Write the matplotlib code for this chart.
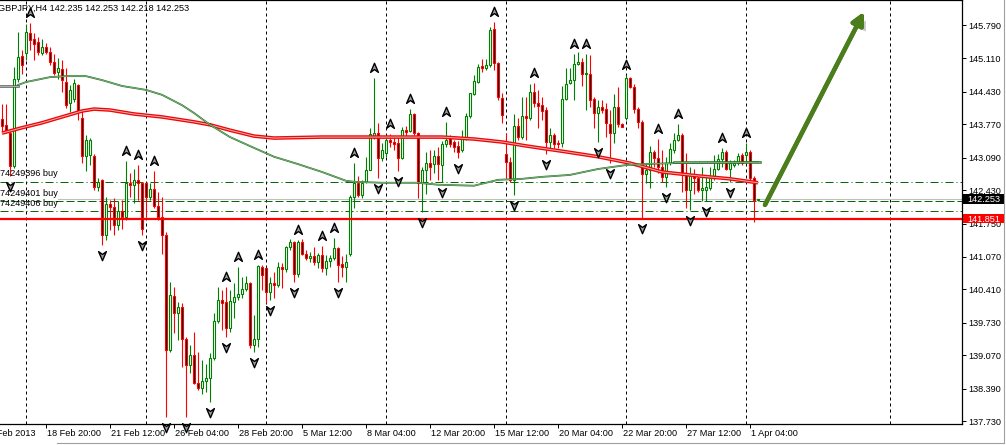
import matplotlib
matplotlib.use("Agg")
import matplotlib.pyplot as plt
import matplotlib.transforms as mtransforms
import matplotlib.patheffects as pe
from matplotlib.path import Path
from matplotlib.patches import Rectangle
from matplotlib.lines import Line2D

plt.rcParams['font.family'] = ['Liberation Sans', 'DejaVu Sans']
FS = 6.6

# GBPJPY H4 candles (index 0 = leftmost bar)
opens = [143.87, 143.75, 143.60, 142.93, 144.70, 145.16, 145.23, 145.62, 145.50, 145.44,
         145.23, 145.35, 145.25, 145.03, 144.84, 144.89, 144.64, 144.20, 144.28, 144.56,
         143.89, 143.12, 143.14, 143.12, 142.49, 142.64, 141.52, 142.15, 142.08, 141.72,
         142.01, 141.89, 142.58, 142.53, 142.64, 142.57, 142.57, 142.30, 142.45, 142.11,
         141.89, 141.52, 139.18, 140.27, 139.92, 140.06, 139.41, 138.87, 139.07, 138.50,
         138.41, 138.54, 138.60, 139.02, 139.77, 140.19, 140.16, 139.63, 140.16, 140.25,
         140.32, 140.41, 140.53, 139.28, 139.41, 140.87, 140.84, 140.36, 140.53, 140.50,
         140.87, 140.82, 141.27, 141.37, 140.72, 141.37, 141.14, 141.04, 141.09, 140.96,
         141.11, 140.84, 140.99, 141.04, 141.25, 140.92, 140.87, 141.14, 142.30, 142.58,
         142.33, 142.60, 142.85, 143.52, 143.59, 143.08, 143.18, 143.45, 143.40, 143.38,
         143.09, 143.65, 143.64, 143.97, 143.60, 142.58, 142.83, 142.99, 142.96, 143.12,
         142.95, 143.37, 143.50, 143.41, 143.33, 143.25, 143.50, 143.93, 144.39, 144.64,
         144.96, 144.92, 144.98, 145.70, 145.01, 144.30, 143.17, 143.01, 142.64, 143.74,
         143.52, 143.94, 143.89, 144.43, 144.20, 144.16, 144.06, 143.40, 143.55, 143.38,
         143.38, 144.28, 144.62, 144.67, 145.00, 145.03, 144.79, 144.79, 144.28, 144.01,
         144.13, 144.09, 143.78, 143.59, 144.13, 143.78, 143.89, 144.71, 144.52, 144.09,
         143.82, 142.75, 142.85, 143.21, 143.08, 142.91, 142.69, 142.98, 143.25, 143.46,
         143.55, 142.77, 142.43, 142.74, 142.67, 142.43, 142.43, 142.47, 142.70, 142.87,
         143.06, 143.21, 142.87, 142.94, 142.98, 143.14, 143.14, 143.21, 142.67, 142.235]
highs = [144.19, 144.18, 143.68, 144.94, 145.64, 145.28, 145.81, 145.83, 145.62, 145.55,
         145.50, 145.42, 145.35, 145.21, 145.11, 145.08, 144.91, 144.57, 144.70, 144.60,
         144.06, 143.55, 143.50, 143.17, 142.67, 142.65, 142.30, 142.23, 142.26, 142.20,
         142.23, 143.02, 142.77, 142.87, 142.94, 142.60, 142.58, 142.57, 142.81, 142.40,
         142.30, 141.58, 140.57, 140.46, 140.16, 140.13, 139.45, 139.28, 139.55, 139.14,
         138.97, 138.90, 139.11, 139.92, 140.46, 140.40, 140.46, 140.40, 140.53, 140.87,
         140.67, 140.68, 140.57, 139.89, 140.91, 140.91, 140.87, 140.67, 140.77, 140.97,
         140.94, 141.29, 141.43, 141.40, 141.41, 141.43, 141.21, 141.18, 141.28, 141.16,
         141.29, 141.11, 141.11, 141.45, 141.28, 141.08, 141.14, 142.33, 142.99, 142.72,
         142.64, 143.11, 143.70, 144.71, 143.80, 143.38, 143.50, 143.57, 143.52, 143.53,
         143.72, 143.74, 144.09, 143.99, 143.62, 142.91, 143.21, 143.25, 143.25, 143.31,
         143.44, 143.82, 143.55, 143.46, 143.42, 143.65, 143.99, 144.41, 144.77, 145.00,
         145.09, 145.09, 145.76, 145.86, 145.04, 144.40, 143.59, 143.11, 143.98, 143.89,
         144.33, 144.33, 144.60, 144.62, 144.47, 144.33, 144.13, 143.69, 143.59, 143.45,
         144.54, 144.91, 144.91, 145.21, 145.25, 145.11, 145.21, 145.18, 144.33, 144.26,
         144.26, 144.20, 144.06, 144.38, 144.52, 143.80, 144.77, 144.74, 144.60, 144.13,
         143.86, 142.98, 143.33, 143.25, 143.48, 143.25, 143.11, 143.38, 143.59, 143.78,
         143.59, 143.19, 142.91, 142.87, 142.74, 142.91, 142.70, 142.91, 143.14, 143.17,
         143.28, 143.25, 143.04, 143.04, 143.18, 143.19, 143.38, 143.25, 142.72, 142.253]
lows = [143.60, 143.59, 142.71, 142.88, 144.63, 144.80, 145.08, 145.28, 145.08, 145.18,
        145.18, 145.21, 144.98, 144.77, 144.70, 144.43, 144.11, 144.03, 144.23, 143.86,
        142.98, 142.81, 142.94, 142.43, 142.42, 141.31, 141.41, 141.62, 141.52, 141.62,
        141.63, 141.82, 142.30, 142.16, 142.23, 141.52, 141.89, 142.23, 142.06, 141.82,
        141.14, 137.82, 139.14, 139.52, 139.38, 138.84, 137.82, 138.70, 138.48, 138.36,
        138.29, 138.33, 138.12, 138.97, 139.72, 139.58, 139.45, 139.55, 139.82, 140.19,
        140.23, 140.38, 139.21, 139.14, 139.24, 140.40, 140.13, 140.19, 140.23, 140.46,
        140.43, 140.77, 141.21, 140.57, 140.67, 141.11, 141.01, 140.97, 140.91, 140.84,
        140.77, 140.70, 140.87, 141.01, 140.57, 140.67, 140.57, 141.08, 142.06, 142.30,
        142.26, 142.57, 142.83, 143.48, 142.67, 143.03, 143.11, 143.31, 143.25, 142.81,
        143.06, 143.52, 143.62, 143.55, 142.28, 141.99, 142.36, 142.64, 142.77, 142.64,
        142.60, 143.31, 143.31, 143.21, 143.08, 143.21, 143.45, 143.89, 144.37, 144.62,
        144.84, 144.88, 144.94, 144.88, 144.26, 143.79, 142.67, 142.60, 142.33, 143.45,
        143.48, 143.46, 143.86, 144.13, 143.69, 143.86, 143.17, 143.25, 143.28, 143.28,
        143.31, 144.26, 144.60, 144.26, 144.98, 144.54, 144.06, 144.13, 143.69, 143.40,
        143.99, 143.52, 142.98, 143.38, 143.72, 143.71, 143.86, 144.50, 143.99, 143.69,
        141.86, 142.57, 142.47, 142.91, 142.77, 142.60, 142.50, 142.94, 143.18, 143.42,
        142.40, 142.06, 142.03, 142.36, 142.40, 142.20, 142.20, 142.43, 142.64, 142.84,
        142.91, 142.84, 142.60, 142.91, 142.94, 142.94, 142.98, 142.64, 141.79, 142.218]
closes = [143.73, 143.64, 142.93, 144.70, 145.15, 144.98, 145.64, 145.49, 145.40, 145.25,
          145.35, 145.25, 145.03, 144.82, 144.91, 144.67, 144.16, 144.47, 144.62, 144.05,
          143.13, 143.46, 143.45, 142.49, 142.60, 141.52, 142.15, 142.08, 141.72, 142.01,
          141.89, 142.58, 142.53, 142.64, 142.57, 141.63, 142.30, 142.45, 142.11, 141.88,
          141.52, 139.18, 140.30, 139.92, 140.06, 139.41, 138.87, 139.07, 138.50, 138.41,
          138.54, 138.60, 139.02, 139.77, 140.19, 140.14, 139.63, 140.17, 140.26, 140.32,
          140.42, 140.55, 139.28, 139.41, 140.89, 140.70, 140.36, 140.53, 140.50, 140.87,
          140.82, 141.27, 141.37, 140.72, 141.37, 141.14, 141.04, 141.09, 140.96, 141.11,
          140.84, 140.99, 141.04, 141.25, 140.91, 140.87, 140.97, 142.30, 142.58, 142.33,
          142.57, 142.85, 143.57, 143.59, 143.08, 143.25, 143.45, 143.40, 143.37, 143.09,
          143.65, 143.62, 143.97, 143.60, 142.58, 142.83, 142.98, 142.91, 143.12, 142.96,
          143.37, 143.46, 143.37, 143.31, 143.21, 143.52, 143.93, 144.40, 144.65, 144.94,
          144.92, 144.98, 145.69, 145.01, 144.32, 143.96, 143.01, 142.64, 143.74, 143.52,
          143.94, 143.89, 144.43, 144.20, 144.14, 144.05, 143.40, 143.55, 143.37, 143.37,
          144.28, 144.60, 144.67, 144.99, 145.04, 144.79, 144.81, 144.26, 144.01, 144.13,
          144.07, 143.79, 143.59, 144.13, 143.78, 143.72, 144.71, 144.52, 144.09, 143.82,
          142.75, 142.85, 143.21, 143.08, 142.91, 142.69, 142.98, 143.26, 143.46, 143.55,
          142.77, 142.43, 142.74, 142.67, 142.43, 142.47, 142.50, 142.70, 142.87, 143.06,
          143.21, 142.87, 142.98, 142.99, 143.13, 142.98, 143.21, 142.67, 142.23, 142.253]

# moving averages (sampled along the drawn lines)
ma_red_bar = [0, 5, 10, 15, 20, 23, 27, 33, 40, 48, 52, 57, 63, 68, 80, 95, 110, 118,
              125, 131, 141, 149, 157, 165, 174, 182, 189]
ma_red_val = [143.59, 143.70, 143.80, 143.92, 144.04, 144.08, 144.06, 143.98, 143.92,
              143.82, 143.76, 143.65, 143.53, 143.49, 143.51, 143.51, 143.51, 143.47,
              143.41, 143.33, 143.21, 143.11, 142.98, 142.80, 142.72, 142.66, 142.58]
ma_green_bar = [4, 6, 12, 16, 21, 25, 30, 36, 40, 45, 48, 52, 57, 63, 68, 74, 80, 86, 88,
                95, 104, 109, 118, 124, 130, 135, 142, 149, 156, 160, 168, 189]
ma_green_val = [144.57, 144.63, 144.73, 144.75, 144.75, 144.67, 144.55, 144.47, 144.37,
                144.16, 144.00, 143.76, 143.51, 143.29, 143.11, 142.96, 142.80, 142.62,
                142.60, 142.58, 142.58, 142.54, 142.52, 142.64, 142.66, 142.70, 142.74,
                142.86, 142.94, 142.96, 142.98, 143.00]

# fractal arrows
up_fractals = [7, 31, 34, 38, 56, 59, 64, 74, 80, 83, 88, 93, 97, 102, 111, 123, 133,
               143, 146, 156, 164, 169, 180, 186]
down_fractals = [2, 25, 35, 41, 46, 52, 56, 63, 67, 73, 84, 94, 99, 105, 110, 114, 128,
                 136, 149, 152, 160, 166, 172, 176, 182]

# open orders and levels
order_ids = ["74249396 buy", "74249401 buy", "74249406 buy"]
order_prices = [142.60, 142.20, 142.00]
stop_level = 141.851

date_ticks = [11, 27, 43, 59, 75, 91, 107, 123, 139, 155, 171, 187]
date_labels = ["18 Feb 20:00", "21 Feb 12:00", "26 Feb 04:00", "28 Feb 20:00",
               "5 Mar 12:00", "8 Mar 04:00", "12 Mar 20:00", "15 Mar 12:00",
               "20 Mar 04:00", "22 Mar 20:00", "27 Mar 12:00", "1 Apr 04:00"]
week_lines = [6, 36, 66, 96, 126, 156, 186, 222]
price_ticks = [145.790, 145.110, 144.430, 143.770, 143.090, 142.430, 141.750,
               141.070, 140.410, 139.730, 139.070, 138.390, 137.730]

arrow_tail = (190.75, 142.13)
arrow_tip = (215.5, 146.06)

GREEN = '#008000'
RED = '#ff0000'

fig = plt.figure(figsize=(10.06, 4.45), dpi=100)
ax = fig.add_axes([0, 21 / 445, 962 / 1006, 424 / 445])
ax.set_xlim(-0.5, 240)
ax.set_ylim(137.67, 146.30)

# weekly separators
for w in week_lines:
    ax.axvline(w, color='black', lw=0.72, ls=(0, (3, 3)), zorder=1)

# candles
xs = list(range(len(opens)))
up = [c >= o for o, c in zip(opens, closes)]
cols = [GREEN if u else RED for u in up]
ax.vlines(xs, lows, highs, colors=cols, lw=0.8, zorder=3)
heights = [max(abs(c - o), 0.01) for o, c in zip(opens, closes)]
bottoms = [min(o, c) for o, c in zip(opens, closes)]
ax.bar(xs, heights, bottom=bottoms, width=0.5,
       color=['white' if u else 'black' for u in up], edgecolor=cols, lw=0.8, zorder=4)

# moving averages
ax.plot(ma_red_bar, ma_red_val, color=RED, lw=2.6, zorder=5, solid_capstyle='butt')
ax.plot(ma_red_bar, ma_red_val, color='#c4c4c4', lw=0.7, zorder=5)
ax.plot(ma_green_bar, ma_green_val, color='#207a20', lw=1.3, zorder=5)
ax.plot(ma_green_bar, ma_green_val, color='#c8c8c8', lw=0.35, zorder=5)
ax.plot([-0.5, 4], [144.55, 144.55], color='#555555', lw=1.8, zorder=5)
ax.plot([-0.5, 4], [144.55, 144.55], color='#b0b0b0', lw=0.7, zorder=5)
ax.plot([168, 189.5], [143.01, 143.01], color='#207a20', lw=1.8, zorder=5)
ax.plot([168, 189.5], [143.01, 143.01], color='#b0b0b0', lw=0.5, zorder=5)

# order lines
order_styles = [(0, (8, 3, 1, 3)), (0, (8, 3)), (0, (8, 3, 1, 3))]
for name, p, st in zip(order_ids, order_prices, order_styles):
    ax.axhline(p, color='#0a640a', lw=0.72, ls=st, zorder=2)
    ax.annotate(name, (-0.5, p), xytext=(0, 2.5), textcoords='offset points',
                fontsize=FS, va='bottom', ha='left', zorder=6)
ax.plot([14, 240], [closes[-1], closes[-1]], color='#c0c0c0', lw=0.8, zorder=2)
ax.axhline(stop_level, color=RED, lw=1.6, zorder=6)

# fractals
up_arrow = Path([(0, 1), (0.75, -0.75), (0, -0.2), (-0.75, -0.75), (0, 1)],
                [Path.MOVETO, Path.LINETO, Path.LINETO, Path.LINETO, Path.CLOSEPOLY])
down_arrow = Path([(0, -1), (0.75, 0.75), (0, 0.2), (-0.75, 0.75), (0, -1)],
                  [Path.MOVETO, Path.LINETO, Path.LINETO, Path.LINETO, Path.CLOSEPOLY])
tr_up = mtransforms.offset_copy(ax.transData, fig=fig, y=10, units='dots')
tr_dn = mtransforms.offset_copy(ax.transData, fig=fig, y=-10, units='dots')
ax.plot(up_fractals, [highs[i] for i in up_fractals], ls='none', marker=up_arrow, ms=7.5,
        mfc='#a0a0a0', mec='black', mew=1.0, transform=tr_up, zorder=7, clip_on=False)
ax.plot(down_fractals, [lows[i] for i in down_fractals], ls='none', marker=down_arrow, ms=7.5,
        mfc='#a0a0a0', mec='black', mew=1.0, transform=tr_dn, zorder=7, clip_on=False)

# hand-drawn arrow
ann = ax.annotate('', xy=arrow_tip, xytext=arrow_tail,
                  arrowprops=dict(arrowstyle='-|>', lw=3.2, color='#4b7d1c',
                                  mutation_scale=18, shrinkA=0, shrinkB=0), zorder=8)
ann.arrow_patch.set_path_effects([pe.withSimplePatchShadow(offset=(3, -3),
                                  shadow_rgbFace='#909090', alpha=0.5), pe.Normal()])

# axes look
ax.spines['left'].set_visible(False)
for s in ['right', 'bottom', 'top']:
    ax.spines[s].set_linewidth(0.9)
ax.yaxis.tick_right()
ax.set_yticks(price_ticks)
ax.set_yticklabels([f"{p:.3f}" for p in price_ticks])
ax.tick_params(axis='y', direction='out', length=3, width=0.72, pad=1.5, labelsize=FS)
ax.set_xticks(date_ticks)
ax.set_xticklabels([])
ax.tick_params(axis='x', direction='out', length=3, width=0.72)
xtr = ax.get_xaxis_transform()
for t, lab in zip(date_ticks, date_labels):
    ax.text(t + 0.3, -12.3 / 424, lab, transform=xtr, fontsize=FS, ha='left',
            va='baseline', clip_on=False)
ax.text(-4.6, -12.3 / 424, "15 Feb 2013", transform=xtr, fontsize=FS, ha='left',
        va='baseline', clip_on=False)

# price boxes on the scale
ytr = ax.get_yaxis_transform()
for p, bg in [(closes[-1], 'black'), (stop_level, RED)]:
    ax.add_patch(Rectangle((1.001, p - 0.097), 41 / 962, 0.194, transform=ytr,
                           facecolor=bg, edgecolor='none', clip_on=False, zorder=9))
    ax.text(1 + 5 / 962, p, f"{p:.3f}", transform=ytr, color='white', fontsize=FS,
            va='center_baseline', ha='left', clip_on=False, zorder=10)

fig.text(-2 / 1006, 1 - 11.3 / 445,
         f"GBPJPY,H4 {opens[-1]:.3f} {highs[-1]:.3f} {lows[-1]:.3f} {closes[-1]:.3f}",
         fontsize=FS, va='baseline', ha='left')

fig.add_artist(Line2D([57 / 1006, 1004 / 1006], [1 - 443 / 445] * 2, color='#a0a0a0', lw=0.8))
fig.add_artist(Line2D([1004 / 1006] * 2, [1 - 443 / 445, 1], color='#a0a0a0', lw=0.8))

fig.savefig("out.png", dpi=100)
